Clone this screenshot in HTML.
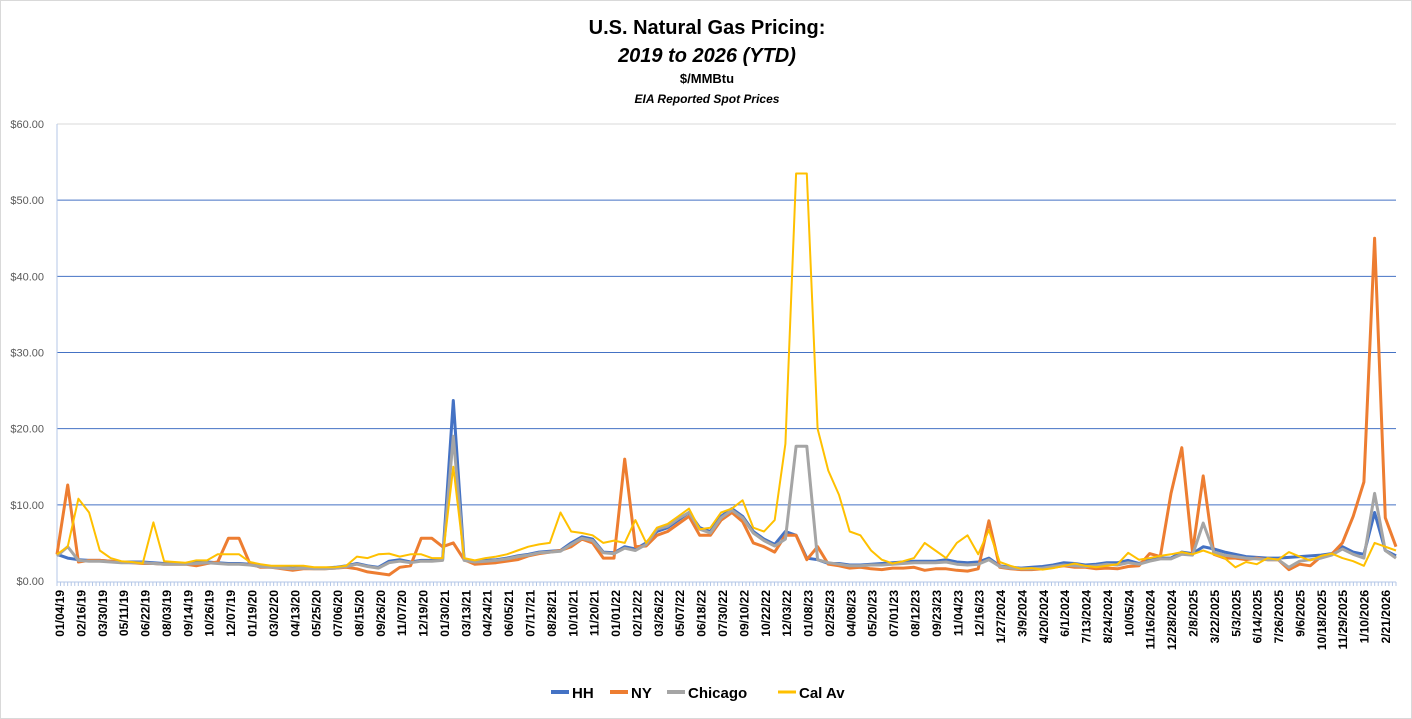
<!DOCTYPE html>
<html><head><meta charset="utf-8"><style>
html,body{margin:0;padding:0;background:#fff;}
svg{display:block;font-family:"Liberation Sans",sans-serif;}
</style></head><body>
<svg id="chart" width="1412" height="719">
<rect x="0.5" y="0.5" width="1411" height="718" fill="#fff" stroke="#d9d9d9"/>
<text x="707" y="34" text-anchor="middle" font-size="20" font-weight="bold">U.S. Natural Gas Pricing:</text>
<text x="707" y="62" text-anchor="middle" font-size="20" font-weight="bold" font-style="italic">2019 to 2026 (YTD)</text>
<text x="707" y="83" text-anchor="middle" font-size="13" font-weight="bold">$/MMBtu</text>
<text x="707" y="103" text-anchor="middle" font-size="12" font-weight="bold" font-style="italic">EIA Reported Spot Prices</text>
<g id="grid"></g><g id="xlabels"></g><g id="series"></g>
<g id="legend"></g>
</svg>
<script>
const yTicks=[0,10,20,30,40,50,60];
const xLabels=["01/04/19","02/16/19","03/30/19","05/11/19","06/22/19","08/03/19","09/14/19","10/26/19","12/07/19","01/19/20","03/02/20","04/13/20","05/25/20","07/06/20","08/15/20","09/26/20","11/07/20","12/19/20","01/30/21","03/13/21","04/24/21","06/05/21","07/17/21","08/28/21","10/10/21","11/20/21","01/01/22","02/12/22","03/26/22","05/07/22","06/18/22","07/30/22","09/10/22","10/22/22","12/03/22","01/08/23","02/25/23","04/08/23","05/20/23","07/01/23","08/12/23","09/23/23","11/04/23","12/16/23","1/27/2024","3/9/2024","4/20/2024","6/1/2024","7/13/2024","8/24/2024","10/05/24","11/16/2024","12/28/2024","2/8/2025","3/22/2025","5/3/2025","6/14/2025","7/26/2025","9/6/2025","10/18/2025","11/29/2025","1/10/2026","2/21/2026"];
const seriesNames=["HH","NY","Chicago","Cal Av"];
const hh=[3.5,3.0,2.8,2.7,2.7,2.6,2.5,2.5,2.5,2.4,2.3,2.3,2.3,2.4,2.5,2.4,2.3,2.3,2.2,2.0,1.9,1.8,1.7,1.8,1.7,1.7,1.8,2.0,2.3,2.0,1.8,2.6,2.8,2.5,2.7,2.7,2.8,23.7,2.8,2.6,2.7,2.8,3.0,3.3,3.5,3.8,3.9,4.0,5.0,5.8,5.5,3.8,3.7,4.5,4.2,5.0,6.5,7.0,8.0,9.0,7.0,6.5,8.5,9.5,8.5,6.5,5.5,4.8,6.5,6.0,3.0,2.8,2.3,2.3,2.1,2.1,2.2,2.3,2.4,2.5,2.6,2.6,2.6,2.8,2.5,2.4,2.5,3.0,2.0,1.8,1.7,1.8,1.9,2.1,2.4,2.3,2.1,2.2,2.4,2.4,2.7,2.3,2.8,3.0,3.0,3.8,3.6,4.5,4.2,3.8,3.5,3.2,3.1,3.0,3.0,3.1,3.2,3.3,3.4,3.6,4.5,3.8,3.5,9.0,4.0,3.3];
const ny=[3.5,12.6,2.5,2.7,2.7,2.6,2.5,2.4,2.3,2.3,2.2,2.2,2.2,2.0,2.3,2.5,5.6,5.6,2.3,1.8,1.8,1.6,1.4,1.6,1.6,1.6,1.7,1.8,1.6,1.2,1.0,0.8,1.8,2.0,5.6,5.6,4.5,5.0,2.8,2.2,2.3,2.4,2.6,2.8,3.3,3.6,3.8,4.0,4.5,5.5,5.0,3.0,3.0,16.0,4.5,4.6,6.0,6.5,7.5,8.5,6.0,6.0,8.0,9.0,7.8,5.0,4.5,3.8,6.0,6.0,2.8,4.5,2.2,2.0,1.7,1.8,1.6,1.5,1.7,1.7,1.8,1.4,1.6,1.6,1.4,1.3,1.6,7.9,1.8,1.6,1.5,1.5,1.6,1.8,2.0,1.8,1.8,1.6,1.7,1.6,1.9,2.0,3.6,3.2,11.5,17.5,3.8,13.8,3.5,3.0,3.0,2.8,3.0,2.8,2.8,1.5,2.2,2.0,3.2,3.5,5.0,8.5,13.0,45.0,8.3,4.5];
const chi=[3.3,4.5,2.7,2.6,2.6,2.5,2.4,2.4,2.4,2.3,2.2,2.2,2.2,2.3,2.4,2.3,2.2,2.2,2.1,1.9,1.8,1.7,1.6,1.7,1.6,1.6,1.7,1.9,2.2,1.9,1.7,2.4,2.6,2.4,2.6,2.6,2.7,19.0,2.7,2.5,2.6,2.7,2.9,3.2,3.4,3.7,3.8,3.9,4.8,5.6,5.3,3.7,3.6,4.3,4.0,4.8,6.8,7.2,8.2,9.0,6.8,6.3,8.3,9.3,8.3,6.3,5.3,4.6,5.5,17.7,17.7,2.8,2.4,2.2,2.0,2.0,2.1,2.1,2.2,2.3,2.4,2.4,2.4,2.5,2.2,2.1,2.2,2.8,1.9,1.7,1.6,1.6,1.7,1.9,2.1,2.0,1.9,2.0,2.2,2.1,2.4,2.2,2.6,2.9,2.9,3.5,3.4,7.6,3.8,3.4,3.2,3.0,2.9,2.8,2.8,1.8,2.6,2.8,3.0,3.4,4.2,3.5,3.0,11.5,4.0,3.0];
const cal=[3.5,4.5,10.8,9.0,4.0,3.0,2.6,2.5,2.3,7.7,2.6,2.5,2.4,2.7,2.7,3.5,3.5,3.5,2.5,2.2,2.0,2.0,2.0,2.0,1.8,1.8,1.8,2.0,3.2,3.0,3.5,3.6,3.2,3.5,3.5,3.0,3.0,15.0,3.0,2.7,3.0,3.2,3.5,4.0,4.5,4.8,5.0,9.0,6.5,6.3,6.0,5.0,5.3,5.0,8.0,5.0,7.0,7.5,8.5,9.5,6.8,7.0,9.0,9.5,10.6,7.0,6.5,8.0,18.0,53.5,53.5,20.0,14.5,11.3,6.5,6.0,4.0,2.8,2.3,2.6,3.0,5.0,4.0,3.0,5.0,6.0,3.5,6.7,2.5,2.0,1.6,1.7,1.5,1.7,2.0,2.3,2.0,1.8,2.0,2.2,3.7,2.8,3.0,3.3,3.5,3.8,3.5,4.0,3.5,3.0,1.8,2.5,2.2,3.0,2.8,3.8,3.2,2.7,3.3,3.6,3.0,2.6,2.0,5.0,4.5,4.0];
const allSeries=[hh,ny,chi,cal];
const colors=["#4472C4","#ED7D31","#A5A5A5","#FFC000"];
const widths=[3,3,3,2];

const NS="http://www.w3.org/2000/svg";
const X0=57,X1=1396,Y0=581,Y1=124;
const yScale=v=>Y0-(v-yTicks[0])/(yTicks[yTicks.length-1]-yTicks[0])*(Y0-Y1);
const n=hh.length;
const xScale=i=>X0+i*(X1-X0)/(n-1);
const lblScale=j=>60+j*(1386-60)/(xLabels.length-1);
function mk(tag,attrs,parent){const e=document.createElementNS(NS,tag);for(const k in attrs)e.setAttribute(k,attrs[k]);parent.appendChild(e);return e;}
const grid=document.getElementById('grid');
yTicks.forEach((t,k)=>{
  const y=yScale(t);
  if(t>0){const l=mk('line',{x1:X0,x2:X1,y1:y,y2:y,stroke:k===yTicks.length-1?'#d9d9d9':'#4472C4','stroke-width':1},grid);
  
  }
  const tx=mk('text',{x:44,y:y+4,'text-anchor':'end','font-size':11,fill:'#595959'},grid);
  tx.textContent='$'+t.toFixed(2);
  
  
});
const ax=mk('line',{x1:X0,x2:X1,y1:Y0+1,y2:Y0+1,stroke:'#b4c7e7','stroke-width':1},grid);


const ay=mk('line',{x1:X0,x2:X0,y1:Y1,y2:Y0+1,stroke:'#b4c7e7','stroke-width':1},grid);


const xl=document.getElementById('xlabels');
for(let i=0;i<n*3;i++){const x=X0+i*(X1-X0)/(n*3-1);const tk=mk('line',{x1:x,x2:x,y1:Y0+1,y2:Y0+5,stroke:'#b4c7e7','stroke-width':1},xl);

}
xLabels.forEach((s,j)=>{
  const x=lblScale(j);
  const t=mk('text',{x:0,y:0,transform:`translate(${x+4},590) rotate(-90)`,'text-anchor':'end','font-size':12,'font-weight':'bold',fill:'#000'},xl);
  t.textContent=s;
  
  
});
const sg=document.getElementById('series');
allSeries.forEach((arr,k)=>{
  const d=arr.map((v,i)=>(i?'L':'M')+xScale(i).toFixed(1)+','+yScale(v).toFixed(1)).join('');
  const p=mk('path',{d:d,fill:'none',stroke:colors[k],'stroke-width':widths[k],'stroke-linejoin':'round'},sg);
  
  
});
const lg=document.getElementById('legend');
const lx=[551,610,667,778];
seriesNames.forEach((s,k)=>{
  const l=mk('line',{x1:lx[k],x2:lx[k]+18,y1:692,y2:692,stroke:colors[k],'stroke-width':widths[k]+1},lg);
  
  
  const t=mk('text',{x:lx[k]+21,y:698,'font-size':15,'font-weight':'bold',fill:'#000'},lg);
  t.textContent=s;
  
  
});
</script>
</body></html>
